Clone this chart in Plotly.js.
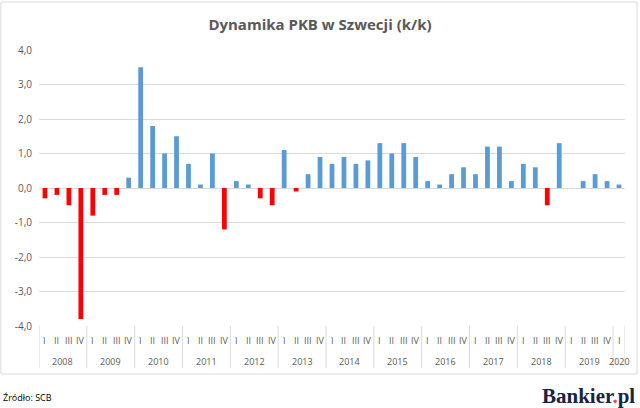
<!DOCTYPE html>
<html>
<head>
<meta charset="utf-8">
<script src="https://cdn.plot.ly/plotly-3.0.1.min.js"></script>
<style>
  html, body { margin: 0; padding: 0; background: #fff; }
  #myDiv { width: 640px; height: 408px; }
</style>
</head>
<body>
<div id="myDiv"></div>
<script>
// kwartalna dynamika PKB Szwecji (k/k, %), 2008 Q1 - 2020 Q1
var years = ['2008', '2009', '2010', '2011', '2012', '2013', '2014',
             '2015', '2016', '2017', '2018', '2019', '2020'];
var quarters = ['I', 'II', 'III', 'IV'];

var gdp2008 = [-0.3, -0.2, -0.5, -3.8];
var gdp2009 = [-0.8, -0.2, -0.2, 0.3];
var gdp2010 = [3.5, 1.8, 1.0, 1.5];
var gdp2011 = [0.7, 0.1, 1.0, -1.2];
var gdp2012 = [0.2, 0.1, -0.3, -0.5];
var gdp2013 = [1.1, -0.1, 0.4, 0.9];
var gdp2014 = [0.7, 0.9, 0.7, 0.8];
var gdp2015 = [1.3, 1.0, 1.3, 0.9];
var gdp2016 = [0.2, 0.1, 0.4, 0.6];
var gdp2017 = [0.4, 1.2, 1.2, 0.2];
var gdp2018 = [0.7, 0.6, -0.5, 1.3];
var gdp2019 = [0.0, 0.2, 0.4, 0.2];
var gdp2020 = [0.1];

var yTickVals = [-4, -3, -2, -1, 0, 1, 2, 3, 4];
var yTickText = ['-4,0', '-3,0', '-2,0', '-1,0', '0,0', '1,0', '2,0', '3,0', '4,0'];

var perYear = [gdp2008, gdp2009, gdp2010, gdp2011, gdp2012, gdp2013, gdp2014,
               gdp2015, gdp2016, gdp2017, gdp2018, gdp2019, gdp2020];

var xs = [], values = [], colors = [], labels = [];
var annotations = [], shapes = [];
var idx = 0;

// etykiety osi X robione recznie (kwartal + rok), jak w wykresie z Excela
for (var i = 0; i < years.length; i++) {
    var start = idx;
    shapes.push({
        type: 'line', xref: 'x', yref: 'paper',
        x0: start - 0.5, x1: start - 0.5, y0: 0, y1: -0.152,
        line: {color: '#d9d9d9', width: 1}
    });
    for (var q = 0; q < perYear[i].length; q++) {
        xs.push(idx);
        values.push(perYear[i][q]);
        labels.push(quarters[q] + ' ' + years[i]);
        colors.push(perYear[i][q] < 0 ? '#ff0000' : '#5b9bd5');
        annotations.push({
            xref: 'x', yref: 'paper', x: idx, y: -0.051,
            xanchor: 'center', yanchor: 'middle', showarrow: false,
            text: quarters[q],
            font: {family: 'Open Sans, sans-serif', size: 9, color: '#595959'}
        });
        idx++;
    }
    annotations.push({
        xref: 'x', yref: 'paper', x: (start + idx - 1) / 2, y: -0.127,
        xanchor: 'center', yanchor: 'middle', showarrow: false,
        text: years[i],
        font: {family: 'Open Sans, sans-serif', size: 9, color: '#595959'}
    });
}
// zamkniecie ostatniego roku
shapes.push({
    type: 'line', xref: 'x', yref: 'paper',
    x0: idx - 0.5, x1: idx - 0.5, y0: 0, y1: -0.152,
    line: {color: '#d9d9d9', width: 1}
});
// ramka calego wykresu
shapes.push({
    type: 'rect', xref: 'paper', yref: 'paper',
    x0: -0.065, x1: 1.0205, y0: -0.174, y1: 1.174,
    line: {color: '#d9d9d9', width: 1}
});

annotations.push({
    xref: 'paper', yref: 'paper',
    x: -0.064, y: -0.26, xanchor: 'left', yanchor: 'middle',
    text: 'Źródło: SCB', showarrow: false,
    font: {family: 'Open Sans, sans-serif', size: 9, color: '#000000'}
});
annotations.push({
    xref: 'paper', yref: 'paper',
    x: 1.02, y: -0.255, xanchor: 'right', yanchor: 'middle',
    text: '<b>Bankier<span style="color:#e8562a">.</span>pl</b>', showarrow: false,
    font: {family: 'Liberation Serif, serif', size: 21, color: '#1b2340'}
});

var data = [{
    type: 'bar',
    x: xs,
    y: values,
    width: 0.4,
    text: labels,
    textposition: 'none',
    marker: {color: colors, line: {width: 0}},
    hoverinfo: 'text+y'
}];

var layout = {
    width: 640,
    height: 408,
    margin: {l: 39, r: 15, t: 50, b: 82},
    paper_bgcolor: '#ffffff',
    plot_bgcolor: '#ffffff',
    showlegend: false,
    font: {family: 'Open Sans, sans-serif', color: '#595959', size: 10},
    title: {
        text: '<b>Dynamika PKB w Szwecji (k/k)</b>',
        font: {family: 'Open Sans, sans-serif', size: 15, color: '#595959'},
        x: 0.5, xanchor: 'center',
        y: 0.94, yanchor: 'middle'
    },
    xaxis: {
        range: [-0.5, values.length - 0.5],
        showgrid: false,
        zeroline: false,
        showline: false,
        showticklabels: false,
        ticks: ''
    },
    yaxis: {
        range: [-4, 4],
        tickvals: yTickVals,
        ticktext: yTickText,
        showgrid: true,
        gridcolor: '#d9d9d9',
        gridwidth: 1,
        zeroline: true,
        zerolinecolor: '#d9d9d9',
        zerolinewidth: 1,
        showline: false,
        ticks: '',
        ticklabelstandoff: 6,
        tickfont: {size: 10, color: '#595959'}
    },
    shapes: shapes,
    annotations: annotations
};

Plotly.newPlot('myDiv', data, layout, {displayModeBar: false, staticPlot: true});
</script>
</body>
</html>
